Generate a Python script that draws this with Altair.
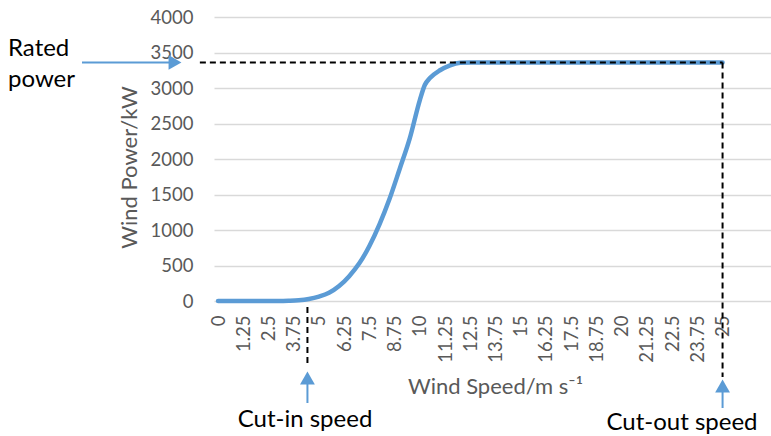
import altair as alt
import pandas as pd

# ---- data ----
speed = [0, 1, 2, 3, 3.5, 4, 4.5, 5, 5.5, 6, 6.5, 7, 7.5, 8, 8.5, 9, 9.5,
         10, 10.25, 10.5, 11, 11.5, 12, 12.5, 15, 20, 25]
power = [0, 0, 0, 0, 3, 10, 28, 62, 115, 210, 350, 530, 775, 1080, 1440, 1860, 2290,
         2830, 3045, 3140, 3250, 3320, 3355, 3360, 3360, 3360, 3360]
x_ticks = [0, 1.25, 2.5, 3.75, 5, 6.25, 7.5, 8.75, 10, 11.25, 12.5, 13.75, 15,
           16.25, 17.5, 18.75, 20, 21.25, 22.5, 23.75, 25]
y_ticks = [0, 500, 1000, 1500, 2000, 2500, 3000, 3500, 4000]
rated_power = 3360
cut_in = 4.43
cut_out = 25
rated_line_start = -0.9

BLUE = "#5B9BD5"
GRAY = "#595959"
FONT = "Lato"

df = pd.DataFrame({"speed": speed, "power": power})

xscale = alt.Scale(domain=[-0.2, 27.4], nice=False, zero=False)
yscale = alt.Scale(domain=[0, 4000], nice=False)

x_axis = alt.Axis(values=x_ticks, labelExpr="'' + datum.value", labelAngle=-90,
                  labelPadding=14, labelOverlap=False, labelFlush=False,
                  ticks=False, domain=False, grid=False,
                  title="Wind Speed/m s⁻¹", titleX=281, titleY=92,
                  titleBaseline="alphabetic", titleAlign="center")
y_axis = alt.Axis(values=y_ticks, labelExpr="'' + datum.value", ticks=False, domain=False,
                  grid=True, labelOverlap=False,
                  labelPadding=21, gridColor="#D9D9D9", gridWidth=1.3,
                  title="Wind Power/kW", titleX=-85, titleY=150,
                  titleAngle=-90, titleAlign="center", titleBaseline="middle")


def X(field):
    return alt.X(field, type="quantitative", scale=xscale, axis=x_axis)


def Y(field):
    return alt.Y(field, type="quantitative", scale=yscale, axis=y_axis)


line = alt.Chart(df).mark_line(
    color=BLUE, strokeWidth=4.5, interpolate="monotone", strokeCap="round", strokeJoin="round"
).encode(x=X("speed"), y=Y("power"))

dash = [6, 4]
rated_df = pd.DataFrame({"power": [rated_power], "speed": [rated_line_start], "speed2": [cut_out]})
rated_dash = alt.Chart(rated_df).mark_rule(color="black", strokeWidth=2, strokeDash=dash).encode(
    x=X("speed"), x2=alt.X2("speed2:Q"), y=Y("power")
)
cutout_df = pd.DataFrame({"power": [rated_power], "speed": [cut_out]})
cutout_dash = alt.Chart(cutout_df).mark_rule(color="black", strokeWidth=2, strokeDash=dash).encode(
    x=X("speed"), y=Y("power"), y2=alt.value(360)
)
cutin_df = pd.DataFrame({"speed": [cut_in]})
cutin_dash = alt.Chart(cutin_df).mark_rule(color="black", strokeWidth=2, strokeDash=dash).encode(
    x=X("speed"), y=alt.value(290), y2=alt.value(346)
)

# arrows
rated_p = pd.DataFrame({"power": [rated_power]})
rated_arrow = alt.Chart(rated_p).mark_rule(color=BLUE, strokeWidth=2).encode(
    x=alt.value(-132), x2=alt.value(-44), y=Y("power")
)
rated_head = alt.Chart(rated_p).mark_point(shape="triangle-right", filled=True, opacity=1,
                                           color=BLUE, size=220).encode(
    x=alt.value(-39), y=Y("power")
)
cutin_arrow = alt.Chart(cutin_df).mark_rule(color=BLUE, strokeWidth=2).encode(
    x=X("speed"), y=alt.value(366), y2=alt.value(386)
)
cutin_head = alt.Chart(cutin_df).mark_point(shape="triangle-up", filled=True, opacity=1,
                                            color=BLUE, size=220).encode(
    x=X("speed"), y=alt.value(361)
)
cutout_s = pd.DataFrame({"speed": [cut_out]})
cutout_arrow = alt.Chart(cutout_s).mark_rule(color=BLUE, strokeWidth=2).encode(
    x=X("speed"), y=alt.value(374), y2=alt.value(391)
)
cutout_head = alt.Chart(cutout_s).mark_point(shape="triangle-up", filled=True, opacity=1,
                                             color=BLUE, size=220).encode(
    x=X("speed"), y=alt.value(369)
)

annot_text = ["Rated\npower", "Cut-in speed", "Cut-out speed"]
rated_text = alt.Chart(pd.DataFrame({"text": [annot_text[0]]})).mark_text(
    align="left", baseline="alphabetic", fontSize=24, font=FONT, color="black",
    lineBreak="\n", lineHeight=31
).encode(text="text:N", x=alt.value(-206), y=alt.value(39))
cutin_text = alt.Chart(pd.DataFrame({"text": [annot_text[1]]})).mark_text(
    align="center", baseline="alphabetic", fontSize=24, font=FONT, color="black"
).encode(text="text:N", x=alt.value(91), y=alt.value(410))
cutout_text = alt.Chart(pd.DataFrame({"text": [annot_text[2]]})).mark_text(
    align="center", baseline="alphabetic", fontSize=24, font=FONT, color="black"
).encode(text="text:N", x=alt.value(468), y=alt.value(413))

chart = alt.layer(
    line, rated_dash, cutout_dash, cutin_dash,
    rated_arrow, rated_head, cutin_arrow, cutin_head, cutout_arrow, cutout_head,
    rated_text, cutin_text, cutout_text,
).properties(
    width=557, height=284,
    background="white",
    autosize=alt.AutoSizeParams(type="none"),
    padding={"left": 214, "top": 17, "right": 0, "bottom": 135},
).configure_view(stroke=None).configure_axis(
    labelFont=FONT, labelFontSize=18.5, labelColor=GRAY,
    titleFont=FONT, titleFontSize=22, titleColor=GRAY, titleFontWeight="normal",
)

chart.save("out.html", embed_options={"renderer": "svg", "actions": False})
